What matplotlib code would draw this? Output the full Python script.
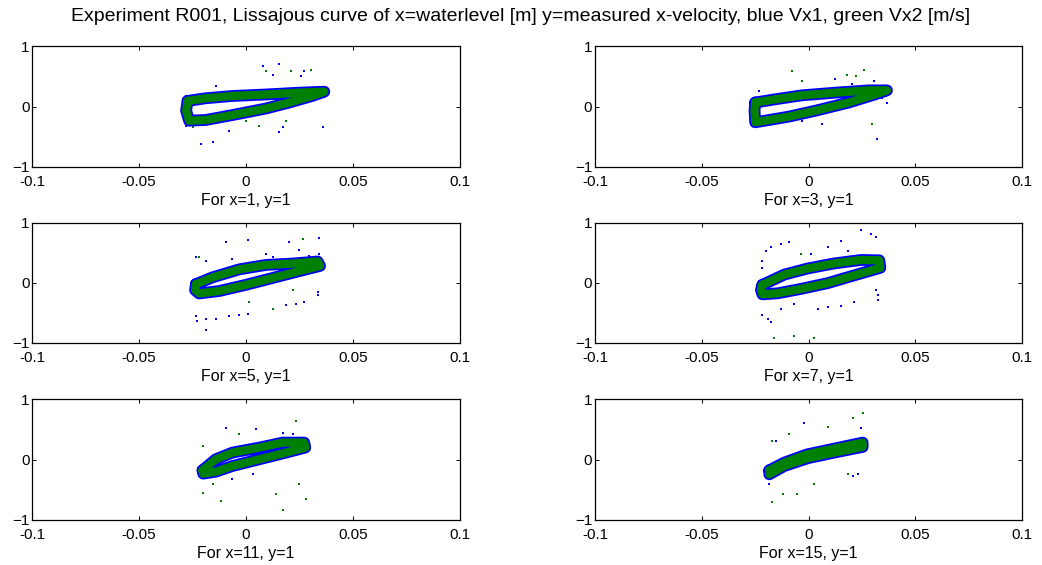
import matplotlib.pyplot as plt
import numpy as np

plt.rcParams['font.family'] = ['Liberation Sans', 'DejaVu Sans']

titles = ['For x=1, y=1', 'For x=3, y=1', 'For x=5, y=1',
          'For x=7, y=1', 'For x=11, y=1', 'For x=15, y=1']

# loop centre lines (closed path, upper branch then lower)
loop_x = [
    [-0.0273, -0.0188, -0.0063, 0.0094, 0.025, 0.0367, 0.031, 0.0203, 0.0094, -0.0063, -0.0188, -0.0266, -0.028, -0.0273],
    [-0.025, -0.0156, -0.0031, 0.0125, 0.0281, 0.0367, 0.031, 0.0188, 0.0031, -0.0094, -0.0203, -0.025, -0.0253, -0.025],
    [-0.0234, -0.0156, -0.0031, 0.0094, 0.0219, 0.0336, 0.0347, 0.025, 0.0125, 0.0, -0.0125, -0.0219, -0.0238, -0.0234],
    [-0.0216, -0.0114, -0.0005, 0.012, 0.0245, 0.0331, 0.0336, 0.0214, 0.0089, -0.0036, -0.0145, -0.0216, -0.0223, -0.0216],
    [-0.0203, -0.0141, -0.0063, 0.0063, 0.0172, 0.0273, 0.0278, 0.0188, 0.0063, -0.0063, -0.0141, -0.02, -0.0203],
    [-0.0184, -0.0114, -0.0005, 0.012, 0.0253, 0.0253, 0.012, -0.0005, -0.0114, -0.0184, -0.0184],
]
loop_y = [
    [0.093, 0.137, 0.175, 0.20, 0.23, 0.246, 0.175, 0.066, -0.033, -0.142, -0.224, -0.235, -0.07, 0.093],
    [0.066, 0.12, 0.186, 0.23, 0.268, 0.268, 0.20, 0.066, -0.071, -0.169, -0.235, -0.262, -0.071, 0.066],
    [-0.023, 0.091, 0.223, 0.297, 0.32, 0.354, 0.28, 0.194, 0.08, -0.034, -0.137, -0.177, -0.12, -0.023],
    [-0.034, 0.136, 0.237, 0.322, 0.379, 0.373, 0.249, 0.124, -0.006, -0.102, -0.175, -0.192, -0.119, -0.034],
    [-0.178, 0.006, 0.117, 0.20, 0.283, 0.283, 0.20, 0.117, 0.006, -0.106, -0.20, -0.233, -0.178],
    [-0.178, -0.05, 0.089, 0.183, 0.283, 0.211, 0.117, 0.022, -0.106, -0.244, -0.178],
]

# stray points, blue Vx1
blue_x = [
    [0.0078, 0.0153, 0.0125, 0.0258, 0.0273, -0.0141, 0.0156, 0.0172, 0.0359, -0.0211, -0.0156, -0.0281, -0.0078],
    [0.0203, 0.0305, 0.0344, 0.0367, 0.032, -0.0031, 0.0063, -0.0234, 0.0125],
    [-0.0188, -0.0141, -0.0078, -0.0031, 0.0008, -0.0234, -0.0227, -0.0188, 0.0188, 0.0234, 0.0273, 0.0336, 0.0336,
     -0.0234, -0.0188, -0.0094, 0.0008, 0.0094, 0.0203, 0.025, 0.0341, 0.0344, -0.0063, 0.0125, 0.0297],
    [-0.02, -0.0177, -0.013, -0.0091, -0.0216, -0.0216, 0.0011, 0.0089, 0.0152, 0.0245, 0.0292, 0.0316, 0.0183,
     0.0323, 0.0316, 0.0323, 0.0089, 0.0152, 0.0214, -0.0067, -0.013, -0.0192, -0.0216, -0.0177, 0.0042],
    [-0.0094, 0.0047, 0.0172, 0.0219, 0.0031, -0.0063],
    [-0.002, -0.0153, 0.0206, 0.023, 0.0245, -0.0184],
]
blue_y = [
    [0.667, 0.705, 0.53, 0.503, 0.596, 0.339, -0.426, -0.344, -0.344, -0.617, -0.59, -0.317, -0.399],
    [0.366, 0.42, 0.148, 0.05, -0.535, -0.24, -0.29, 0.25, 0.45],
    [-0.606, -0.594, -0.56, -0.537, -0.52, -0.549, -0.634, -0.777, -0.377, -0.349, -0.32, -0.206, -0.15,
     0.423, 0.366, 0.68, 0.709, 0.48, 0.68, 0.537, 0.737, 0.48, 0.394, 0.423, 0.45],
    [0.531, 0.588, 0.644, 0.672, 0.362, 0.249, 0.475, 0.588, 0.70, 0.87, 0.814, 0.757, 0.531,
     -0.203, -0.119, -0.288, -0.401, -0.384, -0.316, -0.345, -0.429, -0.599, -0.542, -0.655, -0.429],
    [0.533, 0.506, 0.45, 0.422, -0.244, -0.328],
    [0.617, 0.311, -0.272, -0.233, 0.533, -0.40],
]

# stray points, green Vx2
green_x = [
    [0.0094, 0.0211, 0.0305, 0.0063, 0.0188, 0.0, -0.025],
    [-0.0078, 0.018, 0.0258, -0.0031, 0.0297, 0.022],
    [0.0266, 0.0016, 0.0125, 0.0219, -0.0219],
    [-0.0161, -0.0067, 0.0027, -0.0036],
    [0.0234, -0.0203, -0.0203, -0.0117, 0.0172, 0.0281, -0.0031, 0.0141, 0.025, -0.0156],
    [0.0255, 0.0206, -0.0169, -0.0091, 0.0089, 0.0027, -0.0052, -0.0169, -0.0122, 0.0183],
]
green_y = [
    [0.585, 0.585, 0.612, -0.317, -0.235, -0.235, -0.344],
    [0.585, 0.53, 0.60, 0.42, -0.29, 0.50],
    [0.726, -0.32, -0.434, -0.12, 0.423],
    [-0.91, -0.881, -0.91, 0.475],
    [0.644, 0.228, -0.55, -0.689, -0.844, -0.661, 0.422, -0.578, -0.411, -0.411],
    [0.783, 0.70, 0.311, 0.433, 0.55, -0.411, -0.567, -0.70, -0.578, -0.244],
]

xticks = [-0.1, -0.05, 0, 0.05, 0.1]
xticklabels = ['-0.1', '-0.05', '0', '0.05', '0.1']
yticks = [-1, 0, 1]

fig = plt.figure(figsize=(10.42, 5.65), dpi=100)

lefts = [0.031, 0.571]
bottoms = [0.705, 0.393, 0.080]
w, h = 0.410, 0.213

for i in range(6):
    row, col = i // 2, i % 2
    ax = fig.add_axes([lefts[col], bottoms[row], w, h])
    # blue Vx1 fringe under the green Vx2 band
    ax.plot(loop_x[i], loop_y[i], color='#0000ff', lw=8.5,
            solid_joinstyle='round', solid_capstyle='round')
    ax.plot(loop_x[i], loop_y[i], color='#008000', lw=6,
            solid_joinstyle='round', solid_capstyle='round')
    ax.scatter(blue_x[i], blue_y[i], s=2.5, color='#0000ff', marker='s', linewidths=0)
    ax.scatter(green_x[i], green_y[i], s=2.5, color='#008000', marker='s', linewidths=0)
    ax.set_xlim(-0.1, 0.1)
    ax.set_ylim(-1, 1)
    ax.set_xticks(xticks)
    ax.set_xticklabels(xticklabels)
    ax.set_yticks(yticks)
    ax.tick_params(axis='both', direction='in', top=True, right=True, length=3,
                   width=0.7, labelsize=11)
    ax.tick_params(axis='x', pad=6)
    ax.tick_params(axis='y', pad=2)
    for s in ax.spines.values():
        s.set_linewidth(0.9)
    ax.set_xlabel(titles[i], fontsize=11.5, labelpad=3)

fig.suptitle('Experiment R001, Lissajous curve of x=waterlevel [m] y=measured x-velocity, '
             'blue Vx1, green Vx2 [m/s]', fontsize=14, y=0.985)

plt.savefig('out.png', dpi=100)
